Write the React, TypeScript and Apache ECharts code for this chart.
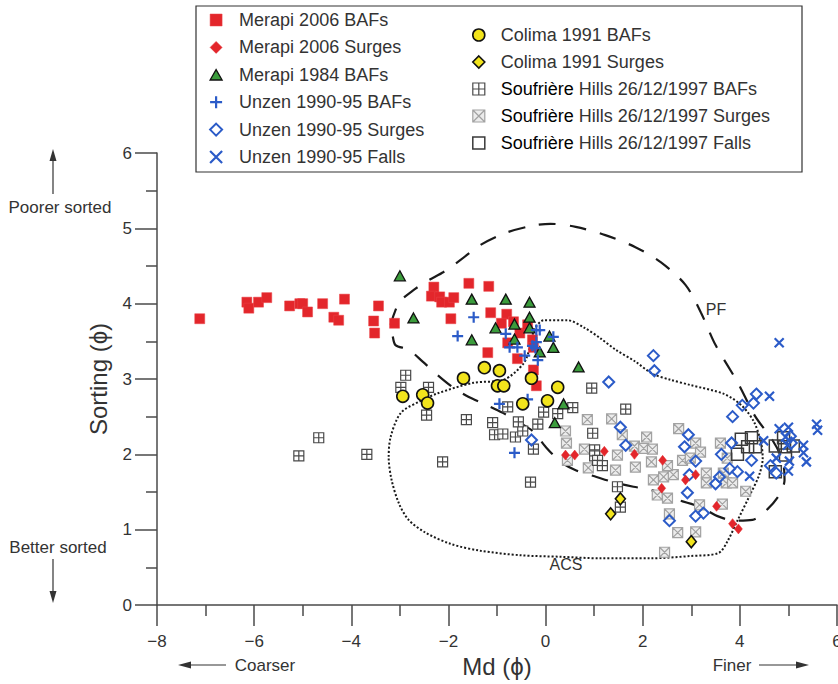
import React, { useEffect, useRef } from 'react';
import * as echarts from 'echarts';

// ---------- data: [Md (phi), Sorting (phi)] ----------
const merapi2006BAFs: [number, number][] = [
  [-7.12, 3.8], [-6.15, 4.02], [-6.11, 3.94], [-5.91, 4.02], [-5.74, 4.08], [-5.27, 3.97],
  [-5.06, 4.0], [-5.0, 4.0], [-4.9, 3.89], [-4.59, 4.0], [-4.36, 3.82], [-4.26, 3.78],
  [-4.14, 4.06], [-3.54, 3.77], [-3.52, 3.61], [-3.44, 3.97], [-3.11, 3.74],
  [-2.3, 4.22], [-1.58, 4.27], [-1.17, 4.23], [-2.35, 4.1], [-2.18, 4.09], [-2.14, 4.02],
  [-1.98, 4.02], [-1.89, 4.08], [-1.95, 3.8], [-1.13, 3.88], [-0.8, 3.86], [-0.91, 3.74],
  [-0.66, 3.76], [-0.53, 3.61], [-0.37, 3.72], [-0.78, 3.48], [-0.27, 3.52], [-0.25, 3.42],
  [-1.19, 3.35], [-0.58, 3.27], [-0.25, 3.12], [-0.19, 2.91],
];
const merapi2006Surges: [number, number][] = [
  [0.41, 1.99], [0.6, 1.99], [1.21, 2.04], [1.83, 2.0], [2.41, 1.92], [2.39, 1.55],
  [2.88, 1.66], [3.09, 1.73], [3.52, 1.31], [3.85, 1.08], [3.97, 1.01],
];
const merapi1984BAFs: [number, number][] = [
  [-3.0, 4.37], [-2.72, 3.81], [-1.52, 4.06], [-1.52, 3.52], [-0.82, 4.06], [-0.33, 4.02],
  [-1.03, 3.68], [-0.64, 3.73], [-0.33, 3.82], [-0.33, 3.68], [-0.64, 3.53], [0.08, 3.57],
  [0.16, 3.42], [-0.12, 3.36], [0.68, 3.16], [0.37, 2.67], [0.19, 2.42],
];
const unzenBAFs: [number, number][] = [
  [-1.48, 3.82], [-1.81, 3.57], [-0.82, 3.6], [-0.74, 3.42], [-0.58, 3.42], [-0.43, 3.31],
  [-0.19, 3.65], [-0.12, 3.65], [0.16, 3.56], [-0.19, 3.49], [-0.21, 3.41], [-0.16, 3.25],
  [-0.27, 3.44], [-0.95, 2.67], [-0.37, 2.73], [-0.64, 2.02],
];
const unzenSurges: [number, number][] = [
  [-0.29, 2.19], [1.3, 2.96], [2.22, 3.31], [2.24, 3.11], [1.54, 2.36], [1.65, 2.12],
  [2.94, 2.26], [2.86, 2.1], [3.09, 1.91], [2.96, 1.73], [2.92, 1.49], [3.09, 1.18],
  [3.25, 1.22], [2.55, 1.12], [3.5, 1.61], [3.58, 1.7], [3.79, 1.81], [3.95, 1.77],
  [3.83, 2.15], [3.62, 2.0], [4.24, 1.92], [3.85, 2.5], [4.05, 2.65], [4.28, 2.68],
  [4.34, 2.8], [5.04, 2.24], [5.06, 2.15], [4.63, 1.85], [4.75, 1.75],
];
const unzenFalls: [number, number][] = [
  [4.81, 3.48], [4.61, 2.77], [4.81, 2.34], [5.0, 2.36], [5.58, 2.4], [5.6, 2.32],
  [5.31, 2.12], [5.31, 2.02], [5.37, 1.9], [5.02, 1.91], [5.0, 1.78], [4.75, 1.95],
  [4.49, 2.18], [4.2, 1.71], [4.94, 2.23], [4.98, 2.12],
];
const colimaBAFs: [number, number][] = [
  [-2.94, 2.77], [-2.53, 2.79], [-2.43, 2.68], [-1.69, 3.01], [-1.26, 3.15], [-0.95, 3.11],
  [-0.99, 2.91], [-0.86, 2.91], [-0.29, 3.01], [-0.47, 2.67], [0.04, 2.71], [0.25, 2.89],
];
const colimaSurges: [number, number][] = [
  [1.54, 1.41], [1.34, 1.21], [3.0, 0.84],
];
const soufriereBAFs: [number, number][] = [
  [-2.88, 3.05], [-2.98, 2.89], [-2.41, 2.89], [-4.67, 2.22], [-5.08, 1.98], [-3.68, 2.0],
  [-2.45, 2.52], [-1.63, 2.46], [-1.09, 2.42], [-1.05, 2.26], [-0.88, 2.27], [-0.62, 2.23],
  [-0.47, 2.31], [-0.56, 2.43], [-0.78, 2.63], [-0.04, 2.56], [-0.16, 2.4], [0.25, 2.54],
  [0.56, 2.62], [0.95, 2.88], [1.65, 2.6], [0.97, 2.28], [1.01, 2.06], [1.01, 1.98],
  [1.07, 1.92], [1.17, 1.85], [-0.25, 2.07], [-2.12, 1.9], [-0.31, 1.63], [1.48, 1.57],
  [1.54, 1.3],
];
const soufriereSurges: [number, number][] = [
  [0.41, 2.31], [0.43, 2.15], [0.45, 1.92], [0.8, 2.07], [0.88, 1.82], [0.86, 2.46],
  [1.36, 2.47], [1.48, 1.99], [1.44, 1.79], [1.58, 2.26], [1.83, 2.11], [2.02, 2.08],
  [2.2, 2.07], [2.08, 2.23], [2.18, 1.9], [1.85, 1.83], [2.22, 1.66], [2.3, 1.46],
  [2.51, 1.42], [2.43, 1.7], [2.63, 1.73], [2.51, 1.85], [2.74, 2.34], [3.09, 2.15],
  [3.19, 2.03], [2.82, 1.92], [2.98, 1.95], [3.31, 1.75], [3.31, 1.62], [3.17, 1.33],
  [2.55, 1.21], [2.72, 0.96], [3.09, 0.97], [2.45, 0.7], [3.6, 2.15], [3.74, 1.95],
  [3.66, 1.75], [3.72, 1.62], [3.85, 1.62], [4.12, 1.51], [3.64, 1.34],
];
const soufriereFalls: [number, number][] = [
  [4.03, 2.2], [4.24, 2.22], [4.16, 2.1], [4.32, 2.1], [3.95, 2.0], [4.73, 2.11],
  [4.9, 2.22], [4.92, 2.1], [5.1, 2.11], [4.94, 1.99], [4.73, 1.77],
];

// envelope outlines (Md, Sorting)
const pfOutline: [number, number][] = [
  [-3.19, 3.72], [-3.02, 4.01], [-2.74, 4.17], [-2.41, 4.31], [-2.1, 4.42], [-1.75, 4.58],
  [-1.34, 4.78], [-0.82, 4.94], [-0.31, 5.03], [0.1, 5.06], [0.62, 5.02], [1.23, 4.91],
  [1.85, 4.75], [2.37, 4.55], [2.88, 4.25], [3.2, 3.88], [3.5, 3.45], [3.95, 2.96],
  [4.32, 2.5], [4.67, 2.19], [4.88, 1.92], [4.92, 1.66], [4.81, 1.46], [4.55, 1.26],
  [4.26, 1.13], [3.89, 1.12], [3.54, 1.18], [3.19, 1.3], [2.55, 1.43], [2.16, 1.53],
  [1.81, 1.57], [1.4, 1.63], [1.05, 1.7], [0.62, 1.79], [0.31, 1.9], [0.0, 2.1],
  [-0.25, 2.3], [-0.56, 2.43], [-0.88, 2.55], [-1.23, 2.66], [-1.58, 2.76], [-1.91, 2.89],
  [-2.22, 3.05], [-2.53, 3.23], [-2.82, 3.39], [-3.09, 3.45], [-3.15, 3.58], [-3.19, 3.72],
];
const acsOutline: [number, number][] = [
  [-0.25, 3.65], [-0.04, 3.78], [0.45, 3.78], [0.8, 3.68], [1.13, 3.54], [1.44, 3.39],
  [1.85, 3.23], [2.2, 3.07], [2.57, 2.99], [2.98, 2.92], [3.68, 2.8], [4.05, 2.64],
  [4.3, 2.42], [4.44, 2.14], [4.47, 1.95], [4.4, 1.73], [4.2, 1.45], [3.95, 1.12],
  [3.74, 0.84], [3.56, 0.69], [2.98, 0.65], [2.16, 0.62], [1.13, 0.62], [0.31, 0.64],
  [-0.51, 0.66], [-1.34, 0.72], [-1.95, 0.81], [-2.47, 0.96], [-2.82, 1.13], [-3.02, 1.35],
  [-3.17, 1.66], [-3.23, 1.96], [-3.19, 2.23], [-2.98, 2.55], [-2.57, 2.71], [-2.22, 2.81],
  [-1.48, 2.95], [-0.86, 2.99], [-0.45, 3.21], [-0.31, 3.45], [-0.25, 3.65],
];

const legendLeftNames = [
  'Merapi 2006 BAFs', 'Merapi 2006 Surges', 'Merapi 1984 BAFs',
  'Unzen 1990-95 BAFs', 'Unzen 1990-95 Surges', 'Unzen 1990-95 Falls',
];
const legendRightNames = [
  'Colima 1991 BAFs', 'Colima 1991 Surges',
  'Soufrière Hills 26/12/1997 BAFs', 'Soufrière Hills 26/12/1997 Surges', 'Soufrière Hills 26/12/1997 Falls',
];

const FONT = '"Liberation Sans", Arial, Helvetica, sans-serif';
const AXIS = '#4a4a4a';
const TXT = '#333';

const SYM = {
  square: 'path://M0,0H10V10H0Z',
  diamond: 'path://M5,0L10,5L5,10L0,5Z',
  triangle: 'path://M5,0L10,8.7L0,8.7Z',
  plus: 'path://M5,0V10M0,5H10',
  cross: 'path://M0,0L10,10M10,0L0,10',
  boxPlus: 'path://M0,0H10V10H0ZM5,0V10M0,5H10',
  boxCross: 'path://M0,0H10V10H0ZM0,0L10,10M10,0L0,10',
  box: 'path://M0,0H10V10H0Z',
};

const RED = '#e3262b';
const BLUE = '#2b5bc8';
const YELLOW = '#f2e41c';
const GREEN = '#3b9c3c';

const seriesDefs: { name: string; data: [number, number][]; symbol: string; size: number | number[]; itemStyle: any }[] = [
  { name: 'Soufrière Hills 26/12/1997 Surges', data: soufriereSurges, symbol: SYM.boxCross, size: 10,
    itemStyle: { color: 'rgba(236,236,236,1)', borderColor: '#a2a2a2', borderWidth: 1.2, opacity: 1 } },
  { name: 'Soufrière Hills 26/12/1997 BAFs', data: soufriereBAFs, symbol: SYM.boxPlus, size: 10,
    itemStyle: { color: 'rgba(255,255,255,0.9)', borderColor: '#4a4a4a', borderWidth: 1.2, opacity: 1 } },
  { name: 'Soufrière Hills 26/12/1997 Falls', data: soufriereFalls, symbol: SYM.box, size: 12,
    itemStyle: { color: 'rgba(255,255,255,0)', borderColor: '#3a3a3a', borderWidth: 1.5, opacity: 1 } },
  { name: 'Unzen 1990-95 Surges', data: unzenSurges, symbol: SYM.diamond, size: 11,
    itemStyle: { color: 'rgba(255,255,255,0)', borderColor: BLUE, borderWidth: 2, opacity: 1 } },
  { name: 'Unzen 1990-95 Falls', data: unzenFalls, symbol: SYM.cross, size: 9,
    itemStyle: { color: 'rgba(255,255,255,0)', borderColor: BLUE, borderWidth: 2.2, opacity: 1 } },
  { name: 'Merapi 2006 BAFs', data: merapi2006BAFs, symbol: SYM.square, size: 10,
    itemStyle: { color: RED, borderColor: '#ea4448', borderWidth: 0.5, opacity: 1 } },
  { name: 'Merapi 2006 Surges', data: merapi2006Surges, symbol: SYM.diamond, size: [8, 10],
    itemStyle: { color: RED, borderColor: RED, borderWidth: 0.5, opacity: 1 } },
  { name: 'Merapi 1984 BAFs', data: merapi1984BAFs, symbol: SYM.triangle, size: [11, 10],
    itemStyle: { color: GREEN, borderColor: '#111', borderWidth: 1.3, opacity: 1 } },
  { name: 'Unzen 1990-95 BAFs', data: unzenBAFs, symbol: SYM.plus, size: 11,
    itemStyle: { color: 'rgba(255,255,255,0)', borderColor: BLUE, borderWidth: 2.2, opacity: 1 } },
  { name: 'Colima 1991 BAFs', data: colimaBAFs, symbol: 'circle', size: 12,
    itemStyle: { color: YELLOW, borderColor: '#111', borderWidth: 1.6, opacity: 1 } },
  { name: 'Colima 1991 Surges', data: colimaSurges, symbol: SYM.diamond, size: [10, 12],
    itemStyle: { color: YELLOW, borderColor: '#111', borderWidth: 1.6, opacity: 1 } },
];

const styleOf = (name: string) => seriesDefs.find((s) => s.name === name)!.itemStyle;

const richText = {
  sp: { width: 12, fontSize: 18, lineHeight: 18, fontFamily: FONT },
  sp2: { width: 11, fontSize: 18, lineHeight: 18, fontFamily: FONT },
  b: { color: '#000', fontSize: 18, lineHeight: 18, fontFamily: FONT },
  t: { color: TXT, fontSize: 18, lineHeight: 18, fontFamily: FONT },
};

const minusFmt = (v: number) => (v < 0 ? '\u2212' + Math.abs(v) : String(v));

function buildOption(): any {
  const tickStyle = { color: AXIS, width: 1.5 };
  const series: any[] = [
    {
      type: 'line', name: 'PF', data: pfOutline, symbol: 'none', smooth: 0.3, z: 1, silent: true,
      lineStyle: { color: '#1a1a1a', width: 2.2, type: [17, 14] },
    },
    {
      type: 'line', name: 'ACS', data: acsOutline, symbol: 'none', smooth: 0.3, z: 1, silent: true,
      lineStyle: { color: '#1a1a1a', width: 2, type: [2, 2] },
    },
    ...seriesDefs.map((s) => ({
      type: 'scatter', name: s.name, data: s.data, symbol: s.symbol, symbolSize: s.size,
      itemStyle: s.itemStyle, z: 3,
    })),
  ];
  const legendCommon = {
    orient: 'vertical', padding: 0, itemWidth: 12, itemHeight: 12, itemGap: 9.4,
    selectedMode: false,
    textStyle: { fontSize: 18, lineHeight: 18, color: TXT, fontFamily: FONT, rich: richText },
  };
  return {
    animation: false,
    backgroundColor: '#fff',
    textStyle: { fontFamily: FONT },
    grid: { left: 157, right: 1, top: 153, bottom: 79, containLabel: false, outerBoundsMode: 'none' },
    xAxis: {
      type: 'value', min: -8, max: 6, interval: 2,
      name: 'Md (\u03d5)', nameLocation: 'middle', nameGap: 47,
      nameTextStyle: { fontSize: 24, color: TXT, fontFamily: FONT },
      axisLine: { onZero: false, lineStyle: tickStyle },
      axisTick: { length: 21, lineStyle: tickStyle },
      minorTick: { show: true, splitNumber: 2, length: 11, lineStyle: tickStyle },
      axisLabel: { fontSize: 17, color: TXT, margin: 28, fontFamily: FONT, formatter: minusFmt, showMaxLabel: true, showMinLabel: true },
      splitLine: { show: false },
      minorSplitLine: { show: false },
    },
    yAxis: {
      type: 'value', min: 0, max: 6, interval: 1,
      name: 'Sorting (\u03d5)', nameLocation: 'middle', nameGap: 47,
      nameTextStyle: { fontSize: 24, color: TXT, fontFamily: FONT },
      axisLine: { show: true, onZero: false, lineStyle: tickStyle },
      axisTick: { show: true, length: 22, lineStyle: tickStyle },
      minorTick: { show: true, splitNumber: 2, length: 11, lineStyle: tickStyle },
      axisLabel: { fontSize: 17, color: TXT, margin: 25, fontFamily: FONT },
      splitLine: { show: false },
      minorSplitLine: { show: false },
    },
    legend: [
      {
        ...legendCommon, left: 209, top: 11,
        data: legendLeftNames.map((n) => ({ name: n, itemStyle: styleOf(n) })),
        formatter: (n: string) => `{sp|}{t|${n}}`,
      },
      {
        ...legendCommon, left: 472, top: 26, itemGap: 9,
        data: legendRightNames.map((n) => ({ name: n, itemStyle: styleOf(n) })),
        formatter: (n: string) =>
          n.startsWith('Soufrière') ? `{sp2|}{b|Soufrière}{t|${n.slice(9)}}` : `{sp2|}{t|${n}}`,
      },
    ],
    graphic: [
      { type: 'rect', shape: { x: 196, y: 6, width: 606, height: 166 }, style: { fill: 'none', stroke: '#333', lineWidth: 1.2 }, z: 10 },
      // Poorer sorted
      { type: 'line', shape: { x1: 53, y1: 194, x2: 53, y2: 160 }, style: { stroke: '#333', lineWidth: 1.2 } },
      { type: 'polygon', shape: { points: [[53, 149], [49.5, 161], [56.5, 161]] }, style: { fill: '#333' } },
      { type: 'text', style: { text: 'Poorer sorted', x: 60, y: 207, textAlign: 'center', textVerticalAlign: 'middle', fontSize: 17, fontFamily: FONT, fill: TXT } },
      // Better sorted
      { type: 'text', style: { text: 'Better sorted', x: 58, y: 547, textAlign: 'center', textVerticalAlign: 'middle', fontSize: 17, fontFamily: FONT, fill: TXT } },
      { type: 'line', shape: { x1: 53, y1: 559, x2: 53, y2: 592 }, style: { stroke: '#333', lineWidth: 1.2 } },
      { type: 'polygon', shape: { points: [[53, 603], [49.5, 591], [56.5, 591]] }, style: { fill: '#333' } },
      // Coarser
      { type: 'line', shape: { x1: 190, y1: 665, x2: 226, y2: 665 }, style: { stroke: '#333', lineWidth: 1.2 } },
      { type: 'polygon', shape: { points: [[178, 665], [191, 661.5], [191, 668.5]] }, style: { fill: '#333' } },
      { type: 'text', style: { text: 'Coarser', x: 265, y: 665, textAlign: 'center', textVerticalAlign: 'middle', fontSize: 17, fontFamily: FONT, fill: TXT } },
      // Finer
      { type: 'text', style: { text: 'Finer', x: 732, y: 665, textAlign: 'center', textVerticalAlign: 'middle', fontSize: 17, fontFamily: FONT, fill: TXT } },
      { type: 'line', shape: { x1: 759, y1: 665, x2: 797, y2: 665 }, style: { stroke: '#333', lineWidth: 1.2 } },
      { type: 'polygon', shape: { points: [[809, 665], [796, 661.5], [796, 668.5]] }, style: { fill: '#333' } },
      // envelope labels
      { type: 'text', style: { text: 'PF', x: 716, y: 309, textAlign: 'center', textVerticalAlign: 'middle', fontSize: 16, fontFamily: FONT, fill: TXT } },
      { type: 'text', style: { text: 'ACS', x: 566, y: 564, textAlign: 'center', textVerticalAlign: 'middle', fontSize: 16, fontFamily: FONT, fill: TXT } },
    ],
    series,
  };
}

export default function App() {
  const ref = useRef<HTMLDivElement>(null);
  useEffect(() => {
    document.body.style.margin = '0';
    document.body.style.overflow = 'hidden';
    const chart = echarts.init(ref.current!, null, { renderer: 'svg' });
    chart.setOption(buildOption());
    return () => chart.dispose();
  }, []);
  return <div ref={ref} style={{ width: 838, height: 684 }} />;
}
